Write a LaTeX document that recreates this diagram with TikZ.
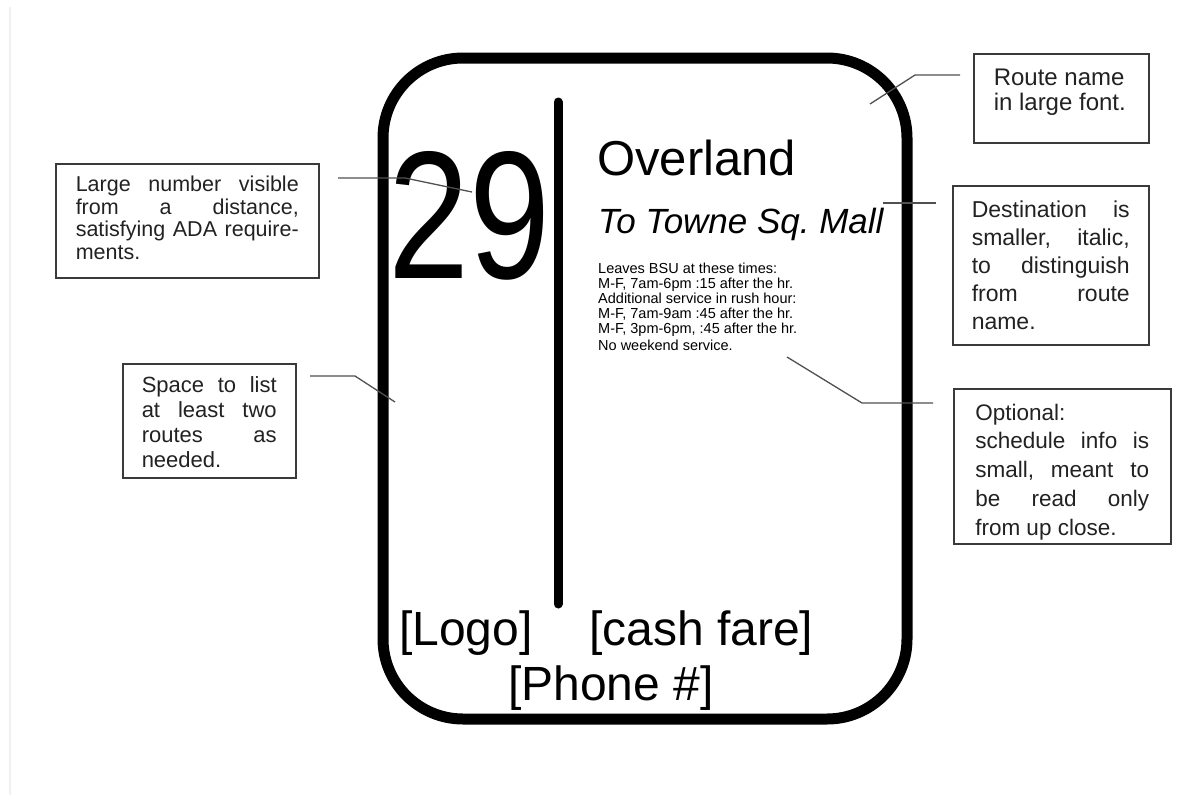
\documentclass[tikz,border=0pt]{standalone}
\usepackage{fontspec}
\usepackage{graphicx}
\setmainfont{Liberation Sans}
\frenchspacing
\definecolor{boxgray}{HTML}{3A3A3A}
\definecolor{linegray}{HTML}{505050}
\definecolor{textgray}{HTML}{222222}
\newcommand{\J}[2]{\makebox[#1pt][s]{#2}}
\newcommand{\fs}[2]{\fontsize{#1}{#2}\selectfont}
\tikzset{
  annot/.style={draw=boxgray, line width=1.5pt, inner ysep=0pt, inner xsep=20pt, anchor=north west, text=textgray},
  leader/.style={draw=linegray, line width=1.3pt},
  signtext/.style={anchor=base west, inner sep=0pt, text=black},
}
\begin{document}
\begin{tikzpicture}[x=1pt,y=-1pt]
\useasboundingbox (0,0) rectangle (1191,795);
\fill[white] (0,0) rectangle (1191,795);
\draw[gray!12, line width=1.5pt] (10,7) -- (10,795);

% sign
\draw[line width=11pt, rounded corners=80pt] (383,58) rectangle (907,719);
\draw[line width=9pt, line cap=round] (558,102) -- (558,604);

% sign texts
\node[signtext, font=\fs{182}{182}] (num) at (388,278) {\scalebox{0.8}[1]{29}};
\node[signtext, font=\fs{49}{49}] (route) at (597,175) {Overland};
\node[signtext, font=\itshape\fs{35}{35}] (dest) at (598,233) {To Towne Sq. Mall};
\node[signtext] (sched) at (598,273) {\parbox[t]{260pt}{\raggedright\fs{14.5}{15}Leaves BSU at these times:\\
M-F, 7am-6pm :15 after the hr.\\
Additional service in rush hour:\\
M-F, 7am-9am :45 after the hr.\\
M-F, 3pm-6pm, :45 after the hr.\\[2pt]
No weekend service.}};
\node[signtext, font=\fs{48}{48}] (logo) at (399,645) {[Logo]};
\node[signtext, font=\fs{48}{48}] (fare) at (589,645) {[cash fare]};
\node[signtext, font=\fs{48}{48}] (phone) at (508,700) {[Phone \#]};

% annotation boxes
\node[annot] (b1) at (55,163) {\parbox[c][114pt][t]{223pt}{\parskip=0pt\fs{21.5}{22.7}\vspace*{12pt}%
\J{223}{Large number visible}\par
\J{223}{from a distance,}\par
\J{223}{satisfying ADA require-}\par
ments.}};
\node[annot, inner xsep=19pt] (b2) at (122,363) {\parbox[c][114pt][t]{135pt}{\parskip=0pt\fs{22}{25}\vspace*{13pt}%
\J{135}{Space to list}\par
\J{135}{at least two}\par
\J{135}{routes as}\par
needed.}};
\node[annot] (b3) at (973,53) {\parbox[c][89pt][t]{135pt}{\parskip=0pt\fs{24}{25}\vspace*{15pt}%
Route name\par
in large font.}};
\node[annot, inner xsep=19pt] (b4) at (952,185) {\parbox[c][159pt][t]{158pt}{\parskip=0pt\fs{23}{28}\vspace*{15pt}%
\J{158}{Destination is}\par
\J{158}{smaller, italic,}\par
\J{158}{to distinguish}\par
\J{158}{from route}\par
name.}};
\node[annot, inner xsep=21.5pt] (b5) at (953,388) {\parbox[c][155pt][t]{174pt}{\parskip=0pt\fs{22.5}{28.75}\vspace*{15pt}%
Optional:\par
\J{174}{schedule info is}\par
\J{174}{small, meant to}\par
\J{174}{be read only}\par
from up close.}};

% leader lines
\coordinate (l1a) at (338,178); \coordinate (l1b) at (405,178); \coordinate (l1c) at (472,192);
\coordinate (l2a) at (310,376); \coordinate (l2b) at (355,376); \coordinate (l2c) at (395,402);
\coordinate (l3a) at (960,75);  \coordinate (l3b) at (915,75);  \coordinate (l3c) at (870,104);
\coordinate (l4a) at (936,203); \coordinate (l4c) at (883,203);
\coordinate (l5a) at (933,403); \coordinate (l5b) at (862,403); \coordinate (l5c) at (787,357);
\draw[leader] (l1a) -- (l1b) -- (l1c);
\draw[leader] (l2a) -- (l2b) -- (l2c);
\draw[leader] (l3a) -- (l3b) -- (l3c);
\draw[leader] (l4a) -- (l4c);
\draw[leader] (l5a) -- (l5b) -- (l5c);
\end{tikzpicture}
\end{document}
